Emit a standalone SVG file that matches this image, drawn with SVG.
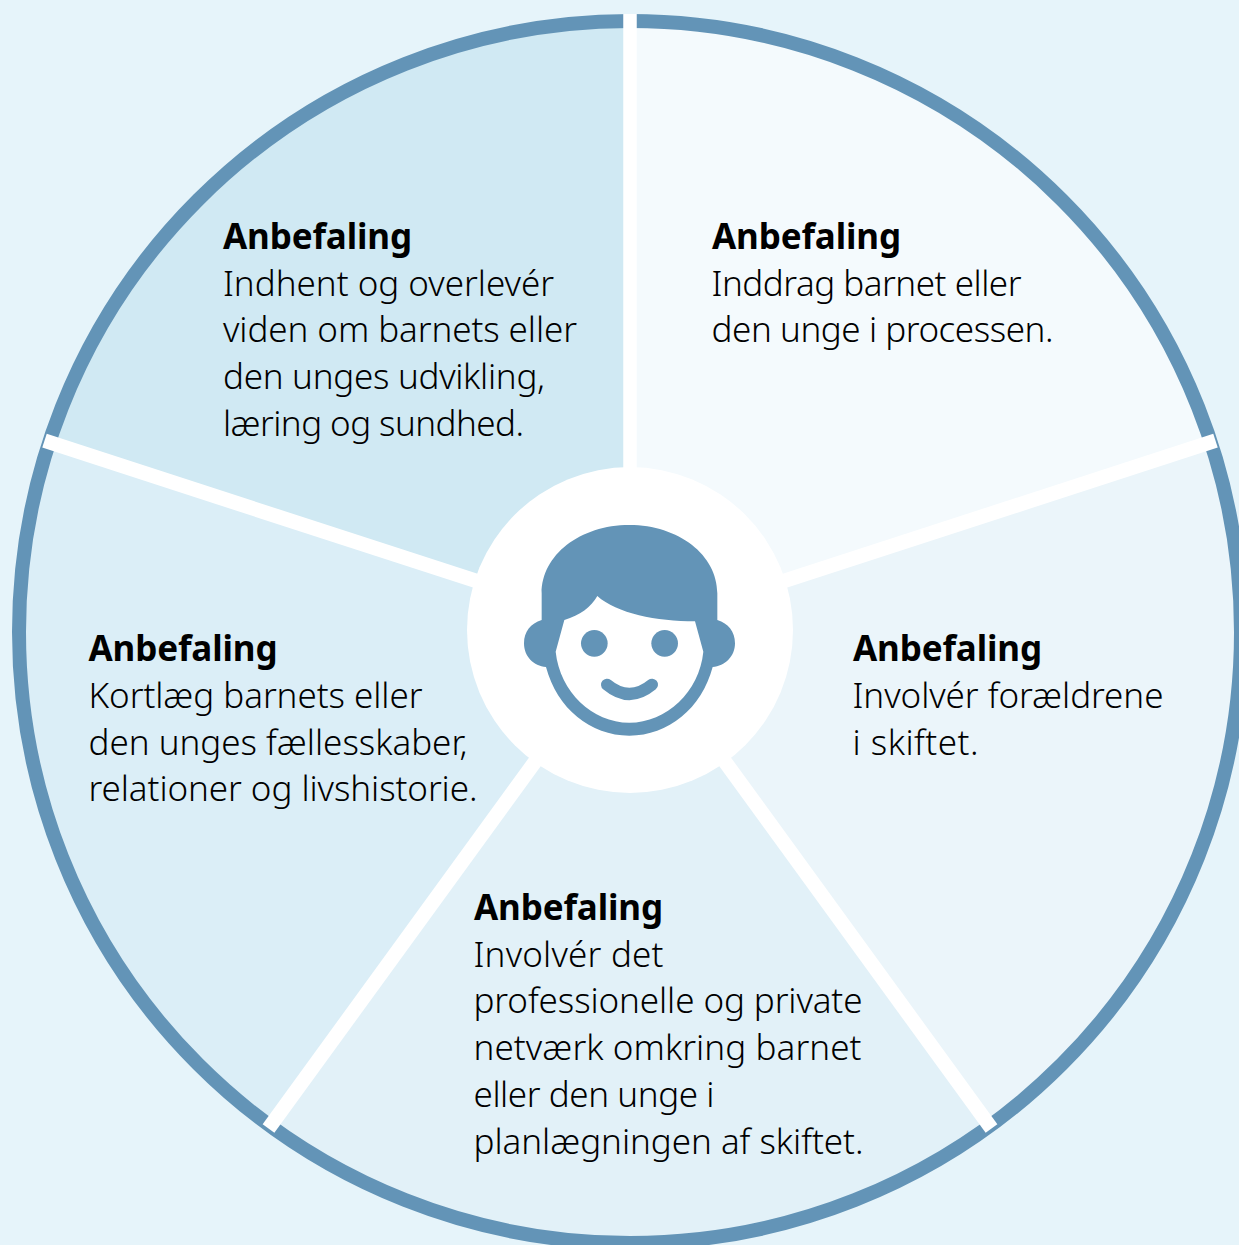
<svg xmlns="http://www.w3.org/2000/svg" width="1239" height="1245" viewBox="0 0 1239 1245">
<style>
text{font-family:"Noto Sans","Open Sans","Liberation Sans",sans-serif;font-size:35px;fill:#000;font-weight:300}
.h{font-weight:700}
.ring{fill:none;stroke:#6394b7;stroke-width:14}
.sp{stroke:#fff;stroke-width:14.500;fill:none}
.ic{fill:#6394b7}
</style>
<rect width="1239" height="1245" fill="#e6f4fa"/>
<g id="wedges">
<path d="M630 631V21A611 611 0 0 0 49 443Z" fill="#d0e9f3"/>
<path d="M630 631V21A611 611 0 0 1 1211 443Z" fill="#f4fafd"/>
<path d="M630 631L1211 443A611 611 0 0 1 989 1126Z" fill="#ebf5fa"/>
<path d="M630 631L989 1126A611 611 0 0 1 271 1126Z" fill="#e2f1f8"/>
<path d="M630 631L271 1126A611 611 0 0 1 49 443Z" fill="#dbeef7"/>
<circle class="ring" cx="630" cy="632" r="611"/>
</g>
<g id="connectors">
<path class="sp" style="stroke-width:13.500" d="M630 631V14"/>
<path class="sp" d="M630 631L44.500 440.700"/>
<path class="sp" d="M630 631L1215.500 440.700"/>
<path class="sp" d="M630 631L268.500 1128.500"/>
<path class="sp" d="M630 631L991.500 1128.500"/>
</g>
<g id="center">
<circle cx="630" cy="630" r="163" fill="#fff"/>
<g transform="translate(460 460) scale(.33333)">
<path class="ic" d="M245 480V400C245 285 360 195 508 195C656 195 772 285 772 400V480C805 490 825 515 825 550C825 590 795 618 758 621C725 745 625 827 508 827C391 827 291 745 258 621C221 618 192 590 192 550C192 515 212 490 245 480Z"/>
<path fill="#fff" d="M313 480C360 466 393 442 412 408C470 460 590 484 705 484L730 575C718 695 620 788 508 788C396 788 300 695 287 575Z"/>
<circle class="ic" cx="403" cy="550" r="40"/>
<circle class="ic" cx="614" cy="550" r="40"/>
<path d="M441 674Q508 730 576 674" fill="none" stroke="#6394b7" stroke-width="36" stroke-linecap="round"/>
</g>
</g>
<g id="node-top-left">
<text class="h" x="223" y="249" textLength="189">Anbefaling</text>
<text x="223" y="296" textLength="331">Indhent og overlevér</text>
<text x="223" y="342" textLength="354">viden om barnets eller</text>
<text x="223" y="389" textLength="322">den unges udvikling,</text>
<text x="223" y="436" textLength="301">læring og sundhed.</text>
</g>
<g id="node-top-right">
<text class="h" x="712" y="249" textLength="189">Anbefaling</text>
<text x="711.500" y="296" textLength="310">Inddrag barnet eller</text>
<text x="711.500" y="342" textLength="342">den unge i processen.</text>
</g>
<g id="node-right">
<text class="h" x="853" y="661" textLength="189">Anbefaling</text>
<text x="852.500" y="708" textLength="311">Involvér forældrene</text>
<text x="852.500" y="755" textLength="126">i skiftet.</text>
</g>
<g id="node-bottom">
<text class="h" x="474" y="920" textLength="189">Anbefaling</text>
<text x="473.500" y="967" textLength="190">Involvér det</text>
<text x="473.500" y="1013" textLength="389">professionelle og private</text>
<text x="473.500" y="1060" textLength="388">netværk omkring barnet</text>
<text x="473.500" y="1107" textLength="241">eller den unge i</text>
<text x="473.500" y="1154" textLength="390">planlægningen af skiftet.</text>
</g>
<g id="node-left">
<text class="h" x="88.500" y="661" textLength="189">Anbefaling</text>
<text x="88.500" y="708" textLength="334">Kortlæg barnets eller</text>
<text x="88.500" y="755" textLength="379">den unges fællesskaber,</text>
<text x="88.500" y="801" textLength="389">relationer og livshistorie.</text>
</g>
</svg>
